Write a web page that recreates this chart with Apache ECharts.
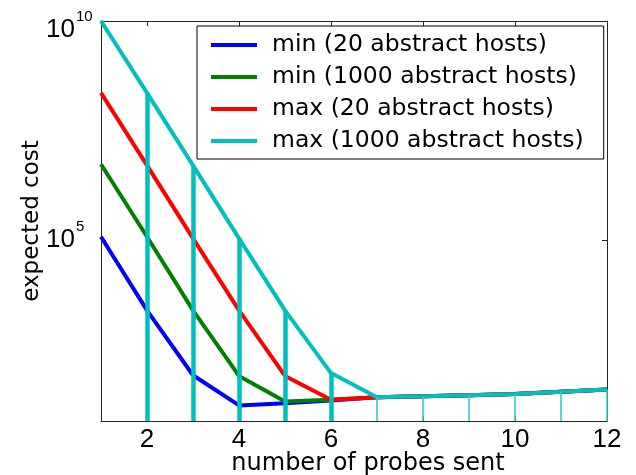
<!DOCTYPE html>
<html>
<head>
<meta charset="utf-8">
<script src="https://cdn.jsdelivr.net/npm/echarts@6/dist/echarts.min.js"></script>
<style>
  html, body { margin: 0; padding: 0; background: #fff; }
  #chart { width: 636px; height: 475px; }
</style>
</head>
<body>
<div id="chart"></div>
<script>
// number of probes sent (x)
const probes = [1, 2, 3, 4, 5, 6, 7, 8, 9, 10, 11, 12];
// expected cost per curve
const minHosts20   = [1.2e5, 2500, 83, 17, 19, 22, 26, 27.5, 29, 31, 35, 39];
const minHosts1000 = [5.4e6, 1.2e5, 2500, 80, 21, 23, 26, 27.5, 29, 31, 35, 39];
const maxHosts20   = [2.3e8, 5.1e6, 1.1e5, 2500, 80, 23, 26, 27.5, 29, 31, 35, 39];
const maxHosts1000 = [1e10, 2.3e8, 5.1e6, 1.1e5, 2500, 93, 26, 27.5, 29, 31, 35, 39];
const seriesNames = [
  'min (20 abstract hosts)',
  'min (1000 abstract hosts)',
  'max (20 abstract hosts)',
  'max (1000 abstract hosts)'
];
const xTicks = [2, 4, 6, 8, 10, 12];
const yTicks = [1e5, 1e10];
const yMin = 7.5;
const yMax = 1e10;

const font = 'DejaVu Sans';
const tickFont = 'Liberation Sans';
const colors = ['#0000ff', '#008000', '#ff0000', '#00bfbf'];

function pairs(arr) {
  return probes.map((x, i) => [x, arr[i]]);
}

// vertical stems under the cyan curve, x = 2..12
const stems = probes.slice(1).map(function (x) {
  const v = maxHosts1000[x - 1];
  return [
    { coord: [x, yMin], lineStyle: { width: x <= 6 ? 4.5 : 1.6, color: x <= 6 ? '#00bfbf' : '#33cccc' } },
    { coord: [x, v] }
  ];
});

function initChart() {
  const chart = echarts.init(document.getElementById('chart'));
  const line = (name, data, color) => ({
    name: name,
    type: 'line',
    data: pairs(data),
    symbol: 'none',
    lineStyle: { width: 4, color: color },
    itemStyle: { color: color },
    animation: false
  });
  const series = [
    line(seriesNames[0], minHosts20, colors[0]),
    line(seriesNames[1], minHosts1000, colors[1]),
    line(seriesNames[2], maxHosts20, colors[2]),
    line(seriesNames[3], maxHosts1000, colors[3])
  ];
  series[3].markLine = {
    symbol: ['none', 'none'],
    silent: true,
    animation: false,
    label: { show: false },
    lineStyle: { type: 'solid', color: '#00bfbf' },
    data: stems
  };

  const option = {
    animation: false,
    textStyle: { fontFamily: font },
    grid: { left: 101, right: 29, top: 21, bottom: 54, outerBoundsMode: 'none' },
    legend: {
      data: seriesNames,
      orient: 'vertical',
      left: 197,
      top: 26,
      padding: [7, 20, 6, 14],
      icon: 'rect',
      itemWidth: 46,
      itemHeight: 4,
      itemGap: 8,
      backgroundColor: '#fff',
      borderColor: '#000',
      borderWidth: 1,
      textStyle: { fontFamily: font, fontSize: 23.5, color: '#000', padding: [0, 0, 0, 10] }
    },
    xAxis: [
      {
        type: 'value', min: 1, max: 12,
        name: 'number of probes sent',
        nameLocation: 'middle',
        nameGap: 31,
        nameMoveOverlap: false,
        nameTextStyle: { fontFamily: font, fontSize: 24, color: '#000', padding: [0, 0, 0, 28] },
        axisLine: { lineStyle: { color: '#262626', width: 1 } },
        axisTick: { inside: true, length: 5, customValues: xTicks, lineStyle: { color: '#262626' } },
        axisLabel: { customValues: xTicks, fontFamily: tickFont, fontSize: 26, color: '#000', margin: 6 },
        splitLine: { show: false }
      },
      {
        type: 'value', min: 1, max: 12, position: 'top',
        axisLine: { lineStyle: { color: '#262626', width: 1 } },
        axisTick: { inside: true, length: 5, customValues: xTicks, lineStyle: { color: '#262626' } },
        axisLabel: { show: false },
        splitLine: { show: false }
      }
    ],
    yAxis: [
      {
        type: 'log', logBase: 10, min: yMin, max: yMax,
        name: 'expected cost',
        nameLocation: 'middle',
        nameGap: 57,
        nameMoveOverlap: false,
        nameTextStyle: { fontFamily: font, fontSize: 23, color: '#000' },
        axisLine: { lineStyle: { color: '#262626', width: 1 } },
        axisTick: { inside: true, length: 5, customValues: yTicks, lineStyle: { color: '#262626' } },
        axisLabel: {
          customValues: yTicks,
          align: 'left',
          margin: 55,
          color: '#000',
          formatter: function (v) {
            const e = Math.round(Math.log10(v));
            return e === 10 ? '{bt|10}{st|' + e + '}' : '{b|10}{s|' + e + '}';
          },
          rich: {
            b: { fontFamily: tickFont, fontSize: 26, color: '#000', padding: [10, 0, 10, 0] },
            s: { fontFamily: tickFont, fontSize: 15, color: '#000', verticalAlign: 'top', padding: [2, 0, 0, 1] },
            bt: { fontFamily: tickFont, fontSize: 26, color: '#000', padding: [27, 0, 10, 0] },
            st: { fontFamily: tickFont, fontSize: 15, color: '#000', verticalAlign: 'top', padding: [20, 0, 0, 1] }
          }
        },
        splitLine: { show: false }
      },
      {
        type: 'log', logBase: 10, min: yMin, max: yMax, position: 'right',
        axisLine: { lineStyle: { color: '#262626', width: 1 } },
        axisTick: { inside: true, length: 5, customValues: yTicks, lineStyle: { color: '#262626' } },
        axisLabel: { show: false },
        splitLine: { show: false }
      }
    ],
    series: series
  };
  chart.setOption(option);
}

document.addEventListener('DOMContentLoaded', initChart);
</script>
</body>
</html>
